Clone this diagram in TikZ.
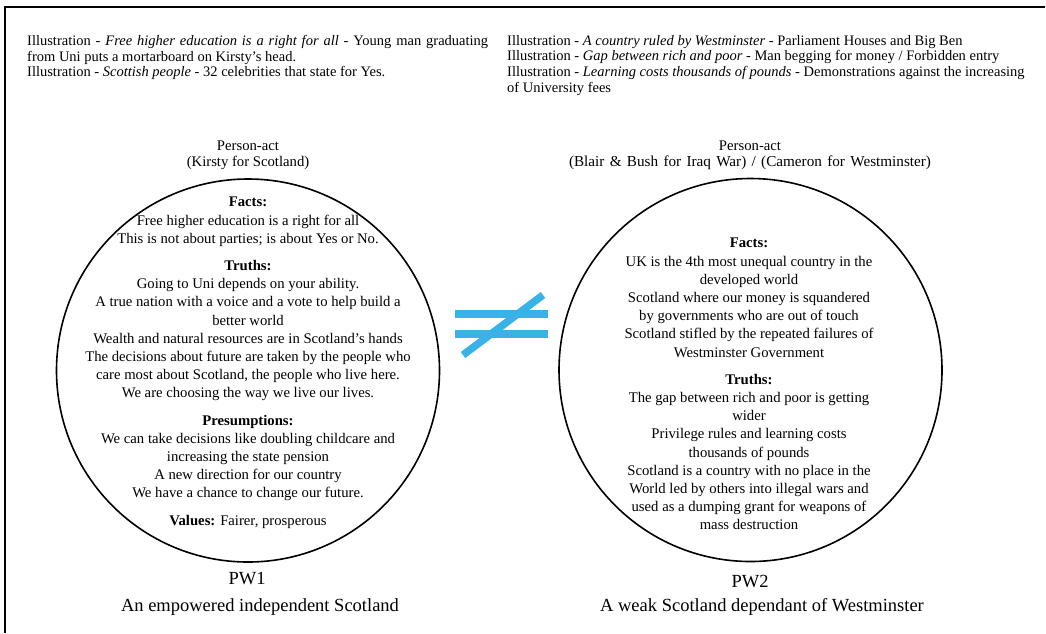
\documentclass[tikz,border=0pt]{standalone}
\usepackage{fontspec}
\setmainfont{Liberation Serif}
\definecolor{neqblue}{RGB}{58,178,232}
\begin{document}
\begin{tikzpicture}[x=1pt,y=-1pt,
  toptext/.style={anchor=north west, inner sep=0pt, align=left, font={\fontsize{14.5}{15.6}\selectfont}},
  bodytext/.style={anchor=north, inner sep=0pt, align=center, font={\fontsize{14.7}{18.2}\selectfont}},
  headtext/.style={anchor=center, inner sep=0pt, align=center, font={\fontsize{14.7}{15.5}\selectfont}},
  bigtext/.style={anchor=center, inner sep=0pt, font={\fontsize{18.5}{22}\selectfont}},
  world/.style={draw, circle, inner sep=0pt, minimum size=383pt, line width=1.6pt},
  neqbar/.style={line width=7.5pt, neqblue}]
\useasboundingbox[fill=white] (0,0) rectangle (1046,633);
% frame
\coordinate (ftl) at (5,7);
\coordinate (fbl) at (5,633);
\coordinate (ftr) at (1045,7);
\draw[line width=2.6pt] (fbl) -- (ftl) -- (ftr);
% top notes
\node[toptext] (noteL) at (27,35) {\makebox[461pt][s]{Illustration - \textit{Free higher education is a right for all} - Young man graduating}\\
from Uni puts a mortarboard on Kirsty’s head.\\
Illustration - \textit{Scottish people} - 32 celebrities that state for Yes.};
\node[toptext] (noteR) at (507,35) {Illustration - \textit{A country ruled by Westminster} - Parliament Houses and Big Ben\\
Illustration - \textit{Gap between rich and poor} - Man begging for money / Forbidden entry\\
Illustration - \textit{Learning costs thousands of pounds} - Demonstrations against the increasing\\
of University fees};
% person-act headers
\node[headtext] (paL) at (248,155.5) {Person-act\\(Kirsty for Scotland)};
\node[headtext] (paR) at (750,155.5) {Person-act\\{\fontsize{15.2}{15.5}\selectfont\makebox[362pt][s]{(Blair \& Bush for Iraq War) / (Cameron for Westminster)}}};
% circles
\node[world] (pw1) at (248,370.5) {};
\node[world] (pw2) at (750.5,370) {};
% left body
\node[bodytext] (txtL) at (248,197) {\textbf{Facts:}\\
Free higher education is a right for all\\
This is not about parties; is about Yes or No.\\[9pt]
\textbf{Truths:}\\
Going to Uni depends on your ability.\\
A true nation with a voice and a vote to help build a\\
better world\\
Wealth and natural resources are in Scotland’s hands\\
The decisions about future are taken by the people who\\
care most about Scotland, the people who live here.\\
We are choosing the way we live our lives.\\[9pt]
\textbf{Presumptions:}\\
We can take decisions like doubling childcare and\\
increasing the state pension\\
A new direction for our country\\
We have a chance to change our future.\\[9pt]
\textbf{Values:} Fairer, prosperous};
% right body
\node[bodytext] (txtR) at (749,238) {\textbf{Facts:}\\
UK is the 4th most unequal country in the\\
developed world\\
Scotland where our money is squandered\\
by governments who are out of touch\\
Scotland stifled by the repeated failures of\\
Westminster Government\\[9pt]
\textbf{Truths:}\\
The gap between rich and poor is getting\\
wider\\
Privilege rules and learning costs\\
thousands of pounds\\
Scotland is a country with no place in the\\
World led by others into illegal wars and\\
used as a dumping grant for weapons of\\
mass destruction};
% labels
\node[bigtext] (lab1) at (247,579) {PW1};
\node[bigtext] (cap1) at (260,607) {An empowered independent Scotland};
\node[bigtext] (lab2) at (750,582) {PW2};
\node[bigtext] (cap2) at (762,607) {A weak Scotland dependant of Westminster};
% not-equal sign
\coordinate (b1a) at (455,314); \coordinate (b1b) at (548,314);
\coordinate (b2a) at (455,334); \coordinate (b2b) at (548,334);
\coordinate (da) at (463,355); \coordinate (db) at (543,295);
\draw[neqbar] (b1a) -- (b1b);
\draw[neqbar] (b2a) -- (b2b);
\draw[neqbar] (da) -- (db);
\end{tikzpicture}
\end{document}
